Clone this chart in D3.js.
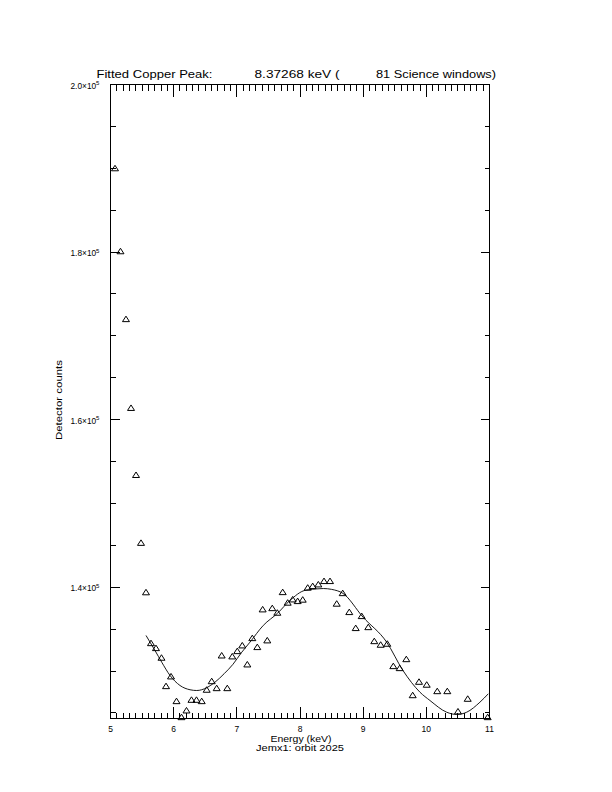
<!DOCTYPE html>
<html><head><meta charset="utf-8">
<script src="https://cdn.jsdelivr.net/npm/d3@7"></script>
<style>body{margin:0;background:#fff}svg{display:block}text{font-family:"Liberation Sans",Arial,sans-serif;fill:#000}</style>
</head><body><svg id="c" width="612" height="792"></svg>
<script>
// Data points (energy keV, detector counts)
const energy = [5.071,5.158,5.245,5.325,5.404,5.483,5.562,5.641,5.720,5.807,5.879,5.958,6.045,6.124,6.203,6.282,6.361,6.444,6.523,6.602,6.681,6.760,6.849,6.928,7.007,7.086,7.166,7.245,7.324,7.409,7.482,7.561,7.641,7.726,7.805,7.884,7.963,8.043,8.122,8.201,8.290,8.380,8.475,8.581,8.676,8.780,8.882,8.977,9.081,9.176,9.277,9.382,9.477,9.578,9.683,9.784,9.884,10.006,10.173,10.332,10.501,10.655,10.971];
const counts = [190000,180100,172000,161400,153400,145300,139400,133330,132740,131590,128200,129360,126410,124500,125300,126570,126570,126410,127770,128790,127960,131860,127960,131750,132380,133060,130790,133930,132860,137360,133660,137510,136960,139420,138160,138550,138350,138520,139950,140140,140340,140740,140740,138040,139300,137040,135130,136560,135240,133570,133140,133260,130590,130350,131420,127120,128720,128370,127600,127600,125180,126690,124500];
// Fitted curve samples
const fitEnergy = [5.562,5.704,5.811,5.942,6.100,6.259,6.365,6.523,6.654,6.800,6.939,7.070,7.208,7.419,7.647,7.841,8.079,8.316,8.370,8.500,8.680,8.997,9.372,9.630,9.899,10.057,10.322,10.481,10.639,10.849,10.981];
const fitCounts = [134250,132460,131060,129480,128280,127770,127680,128010,128670,129690,130810,132170,133450,135450,136920,138430,139630,139830,139850,139750,139270,136440,133450,130070,127480,126490,125090,124820,125090,126290,127290];
// Axes
const xTicks = [5,6,7,8,9,10,11];
const xTickLabels = ["5","6","7","8","9","10","11"];
const yTicks = [140000,160000,180000,200000];
const yTickLabels = ["1.4×10","1.6×10","1.8×10","2.0×10"];
const yTickExp = ["5","5","5","5"];
const xDomain = [5,11];
const yDomain = [124340,200000];
const titleParts = ["Fitted Copper Peak:","8.37268 keV (","81 Science windows)"];

const svg = d3.select("#c");
svg.append("rect").attr("width",612).attr("height",792).attr("fill","#fff");
const L=110.5,R=489.5,T=84.5,B=718.5;
const x = d3.scaleLinear().domain(xDomain).range([L,R]);
const y = d3.scaleLinear().domain(yDomain).range([B,T]);
const snap = v => Math.round(v-0.5)+0.5;

const g = svg.append("g").attr("stroke","#000").attr("stroke-width",1).attr("shape-rendering","crispEdges");
g.append("rect").attr("x",L).attr("y",T).attr("width",R-L).attr("height",B-T).attr("fill","none");

// x ticks
const xMinor = d3.range(5,11.0001,0.1).filter(v=>Math.abs(v-Math.round(v))>1e-6);
xTicks.forEach(v=>{
  const px=snap(x(v));
  g.append("line").attr("x1",px).attr("x2",px).attr("y1",B).attr("y2",B-12);
  g.append("line").attr("x1",px).attr("x2",px).attr("y1",T).attr("y2",T+12);
});
xMinor.forEach(v=>{
  const px=snap(x(v));
  g.append("line").attr("x1",px).attr("x2",px).attr("y1",B).attr("y2",B-6);
  g.append("line").attr("x1",px).attr("x2",px).attr("y1",T).attr("y2",T+6);
});
// y ticks
const yMinor = d3.range(125000,200000,5000).filter(v=>v%20000!==0);
yTicks.forEach(v=>{
  const py=snap(y(v));
  g.append("line").attr("x1",L).attr("x2",L+9).attr("y1",py).attr("y2",py);
  g.append("line").attr("x1",R).attr("x2",R-9).attr("y1",py).attr("y2",py);
});
yMinor.forEach(v=>{
  const py=snap(y(v));
  g.append("line").attr("x1",L).attr("x2",L+5).attr("y1",py).attr("y2",py);
  g.append("line").attr("x1",R).attr("x2",R-5).attr("y1",py).attr("y2",py);
});

// tick labels
xTicks.forEach((v,i)=>{
  svg.append("text").attr("x",x(v)).attr("y",731.5).attr("text-anchor","middle")
    .attr("font-size",8.5).text(xTickLabels[i]);
});
yTicks.forEach((v,i)=>{
  const t=svg.append("text").attr("x",70.5).attr("y",y(v)+4).attr("font-size",8.3);
  t.append("tspan").text(yTickLabels[i]);
  t.append("tspan").attr("dy",-3.5).attr("font-size",6).text(yTickExp[i]);
});

// axis titles
svg.append("text").attr("x",270.5).attr("y",741.5).attr("font-size",8.5)
  .attr("textLength",61).attr("lengthAdjust","spacingAndGlyphs").text("Energy (keV)");
svg.append("text").attr("x",256).attr("y",751.3).attr("font-size",8.5)
  .attr("textLength",88).attr("lengthAdjust","spacingAndGlyphs").text("Jemx1: orbit 2025");
svg.append("text").attr("transform","translate(62,440) rotate(-90)").attr("font-size",9.5)
  .attr("textLength",80).attr("lengthAdjust","spacingAndGlyphs").text("Detector counts");

// title
const tx=[96.5,254.5,376], tw=[116,85,120];
titleParts.forEach((s,i)=>{
  svg.append("text").attr("x",tx[i]).attr("y",77.6).attr("font-size",11.5)
    .attr("textLength",tw[i]).attr("lengthAdjust","spacingAndGlyphs").text(s);
});

// fit line
const line = d3.line().x((d,i)=>x(fitEnergy[i])).y((d,i)=>y(fitCounts[i])).curve(d3.curveMonotoneX);
svg.append("path").datum(fitEnergy).attr("d",line).attr("fill","none").attr("stroke","#000").attr("stroke-width",0.9);

// triangles
svg.append("g").selectAll("path").data(energy).join("path")
  .attr("d",(d,i)=>{const cx=x(d),cy=y(counts[i]);return `M${cx-3.5},${cy+2.5}L${cx+3.5},${cy+2.5}L${cx},${cy-3}Z`;})
  .attr("fill","none").attr("stroke","#000").attr("stroke-width",1);
</script></body></html>
